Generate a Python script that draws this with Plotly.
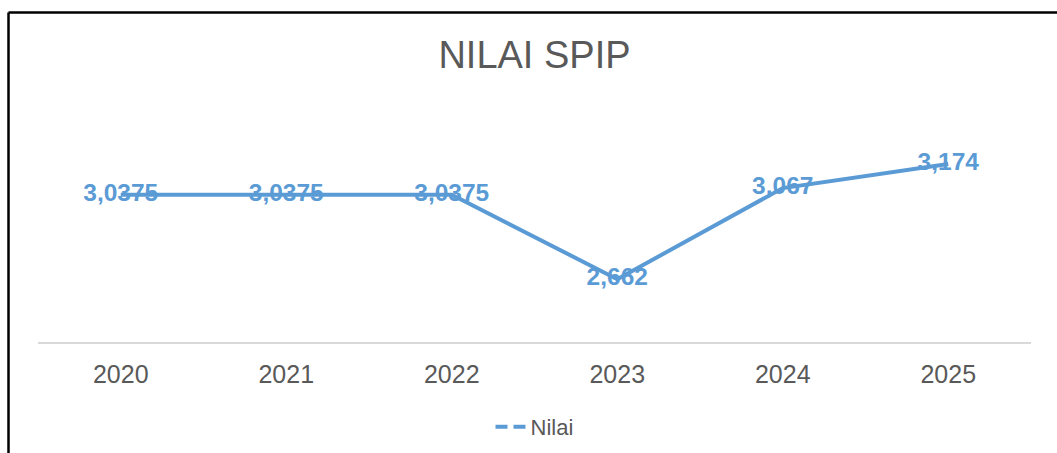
import plotly.graph_objects as go

years = ["2020", "2021", "2022", "2023", "2024", "2025"]
nilai = [3.0375, 3.0375, 3.0375, 2.662, 3.067, 3.174]
series_name = "Nilai"
title_text = "NILAI SPIP"

labels = [str(v).replace(".", ",") for v in nilai]

W, H = 1057, 453
L, R, T, B = 38, 26, 100, 111
plot_w = W - L - R
plot_h = H - T - B

blue = "#5B9BD5"
grey_text = "#595959"

fig = go.Figure()
fig.add_trace(go.Scatter(
    x=years, y=nilai, mode="lines+text", text=labels,
    textposition="middle center",
    textfont=dict(family="Liberation Sans, Arial", size=24.5, color=blue, weight="bold"),
    line=dict(color=blue, width=4),
    showlegend=False, hoverinfo="skip", cliponaxis=False,
))
# legend entry (dashed, like the reference legend)
fig.add_trace(go.Scatter(
    x=[years[0]], y=[None], mode="lines", name=series_name,
    line=dict(color=blue, width=4, dash="12px,6px"),
))

def px_x(p):
    return (p - L) / plot_w

def px_y(p):
    return (H - B - p) / plot_h

fig.update_layout(
    width=W, height=H,
    margin=dict(l=L, r=R, t=T, b=B, autoexpand=False),
    paper_bgcolor="white", plot_bgcolor="white",
    title=dict(text=title_text, x=0.5, xref="paper", y=1 - 55 / H, yanchor="middle",
               font=dict(family="Liberation Sans, Arial", size=38, color=grey_text)),
    xaxis=dict(type="category", range=[-0.5, len(years) - 0.5], showgrid=False, showline=True,
               linecolor="#D9D9D9", linewidth=2, ticks="",
               tickfont=dict(family="Liberation Sans, Arial", size=25, color=grey_text),
               ticklabelstandoff=9, zeroline=False),
    yaxis=dict(visible=False, range=[2.383, 3.4584], showgrid=False, zeroline=False),
    showlegend=True,
    legend=dict(orientation="h", x=0.5, xanchor="center", y=px_y(427), yanchor="middle",
                font=dict(family="Liberation Sans, Arial", size=22, color=grey_text),
                bgcolor="rgba(0,0,0,0)"),
    shapes=[
        dict(type="line", xref="paper", yref="paper", x0=px_x(8.5), x1=px_x(W + 2),
             y0=px_y(12.5), y1=px_y(12.5), line=dict(color="black", width=2.5)),
        dict(type="line", xref="paper", yref="paper", x0=px_x(8.5), x1=px_x(8.5),
             y0=px_y(12.5), y1=px_y(H + 2), line=dict(color="black", width=2.5)),
    ],
)

fig.write_html("out.html", config={"displayModeBar": False},
               post_script="document.body.style.margin='0';document.body.style.overflow='hidden';")
